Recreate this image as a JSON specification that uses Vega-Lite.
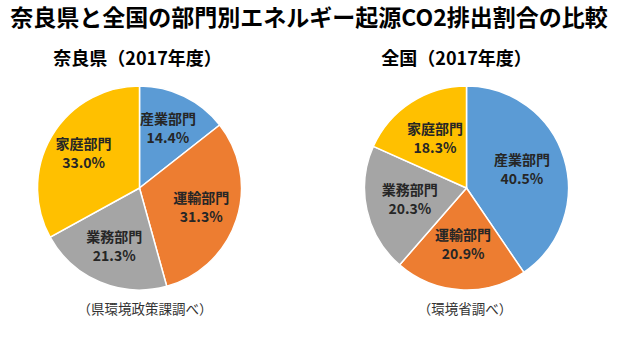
{
  "$schema": "https://vega.github.io/schema/vega-lite/v6.json",
  "background": "white",
  "padding": {"left": 0, "top": 8, "right": 0, "bottom": 0},
  "config": {"view": {"stroke": null}, "font": "Noto Sans CJK JP"},
  "title": {"text": "奈良県と全国の部門別エネルギー起源CO2排出割合の比較", "font": "Noto Sans CJK JP", "fontSize": 23, "fontWeight": "bold", "color": "#000000", "anchor": "middle", "dx": 6, "offset": 20},
  "datasets": {
    "co2": [
      {"region": "奈良県", "sector": "産業部門", "share": 0.144, "idx": 1},
      {"region": "奈良県", "sector": "運輸部門", "share": 0.313, "idx": 2},
      {"region": "奈良県", "sector": "業務部門", "share": 0.213, "idx": 3},
      {"region": "奈良県", "sector": "家庭部門", "share": 0.330, "idx": 4},
      {"region": "全国", "sector": "産業部門", "share": 0.405, "idx": 1},
      {"region": "全国", "sector": "運輸部門", "share": 0.209, "idx": 2},
      {"region": "全国", "sector": "業務部門", "share": 0.203, "idx": 3},
      {"region": "全国", "sector": "家庭部門", "share": 0.183, "idx": 4}
    ]
  },
  "spacing": 48,
  "hconcat": [
    {
      "width": 279, "height": 230,
      "title": {"text": "奈良県（2017年度）", "font": "Noto Sans CJK JP", "fontSize": 18, "fontWeight": "bold", "color": "#000000", "anchor": "middle", "dx": -2, "offset": 4},
      "layer": [
        {
          "data": {"name": "co2"},
          "transform": [{"filter": "datum.region === '奈良県'"}],
          "mark": {"type": "arc", "radius": 102, "stroke": "white", "strokeWidth": 1.5},
          "encoding": {
            "theta": {"field": "share", "type": "quantitative", "stack": true},
            "order": {"field": "idx", "type": "quantitative"},
            "color": {"field": "sector", "type": "nominal", "scale": {"domain": ["産業部門", "運輸部門", "業務部門", "家庭部門"], "range": ["#5B9BD5", "#ED7D31", "#A5A5A5", "#FFC000"]}, "legend": null}
          }
        },
        {
          "data": {"name": "co2"},
          "transform": [{"filter": "datum.region === '奈良県'"}],
          "mark": {"type": "text", "radius": 65, "dy": -9.5, "fontSize": 14, "fontWeight": "bold", "color": "#262626", "font": "Noto Sans CJK JP"},
          "encoding": {
            "theta": {"field": "share", "type": "quantitative", "stack": true},
            "order": {"field": "idx", "type": "quantitative"},
            "text": {"field": "sector"}
          }
        },
        {
          "data": {"name": "co2"},
          "transform": [{"filter": "datum.region === '奈良県'"}],
          "mark": {"type": "text", "radius": 65, "dy": 9.5, "fontSize": 14, "fontWeight": "bold", "color": "#262626", "font": "Noto Sans CJK JP"},
          "encoding": {
            "theta": {"field": "share", "type": "quantitative", "stack": true},
            "order": {"field": "idx", "type": "quantitative"},
            "text": {"field": "share", "format": ".1%"}
          }
        },
        {
          "data": {"values": [{"note": "（県環境政策課調べ）"}]},
          "mark": {"type": "text", "fontSize": 13.5, "color": "#333333", "font": "Noto Sans CJK JP", "align": "center", "baseline": "middle"},
          "encoding": {"text": {"field": "note"}, "x": {"value": 145}, "y": {"value": 237}}
        }
      ]
    },
    {
      "width": 279, "height": 230,
      "title": {"text": "全国（2017年度）", "font": "Noto Sans CJK JP", "fontSize": 18, "fontWeight": "bold", "color": "#000000", "anchor": "middle", "dx": -10, "offset": 4},
      "layer": [
        {
          "data": {"name": "co2"},
          "transform": [{"filter": "datum.region === '全国'"}],
          "mark": {"type": "arc", "radius": 102, "stroke": "white", "strokeWidth": 1.5},
          "encoding": {
            "theta": {"field": "share", "type": "quantitative", "stack": true},
            "order": {"field": "idx", "type": "quantitative"},
            "color": {"field": "sector", "type": "nominal", "scale": {"domain": ["産業部門", "運輸部門", "業務部門", "家庭部門"], "range": ["#5B9BD5", "#ED7D31", "#A5A5A5", "#FFC000"]}, "legend": null}
          }
        },
        {
          "data": {"name": "co2"},
          "transform": [{"filter": "datum.region === '全国'"}],
          "mark": {"type": "text", "radius": 58, "dy": -9.5, "fontSize": 14, "fontWeight": "bold", "color": "#262626", "font": "Noto Sans CJK JP"},
          "encoding": {
            "theta": {"field": "share", "type": "quantitative", "stack": true},
            "order": {"field": "idx", "type": "quantitative"},
            "text": {"field": "sector"}
          }
        },
        {
          "data": {"name": "co2"},
          "transform": [{"filter": "datum.region === '全国'"}],
          "mark": {"type": "text", "radius": 58, "dy": 9.5, "fontSize": 14, "fontWeight": "bold", "color": "#262626", "font": "Noto Sans CJK JP"},
          "encoding": {
            "theta": {"field": "share", "type": "quantitative", "stack": true},
            "order": {"field": "idx", "type": "quantitative"},
            "text": {"field": "share", "format": ".1%"}
          }
        },
        {
          "data": {"values": [{"note": "（環境省調べ）"}]},
          "mark": {"type": "text", "fontSize": 13.5, "color": "#333333", "font": "Noto Sans CJK JP", "align": "center", "baseline": "middle"},
          "encoding": {"text": {"field": "note"}, "x": {"value": 138}, "y": {"value": 237}}
        }
      ]
    }
  ]
}
